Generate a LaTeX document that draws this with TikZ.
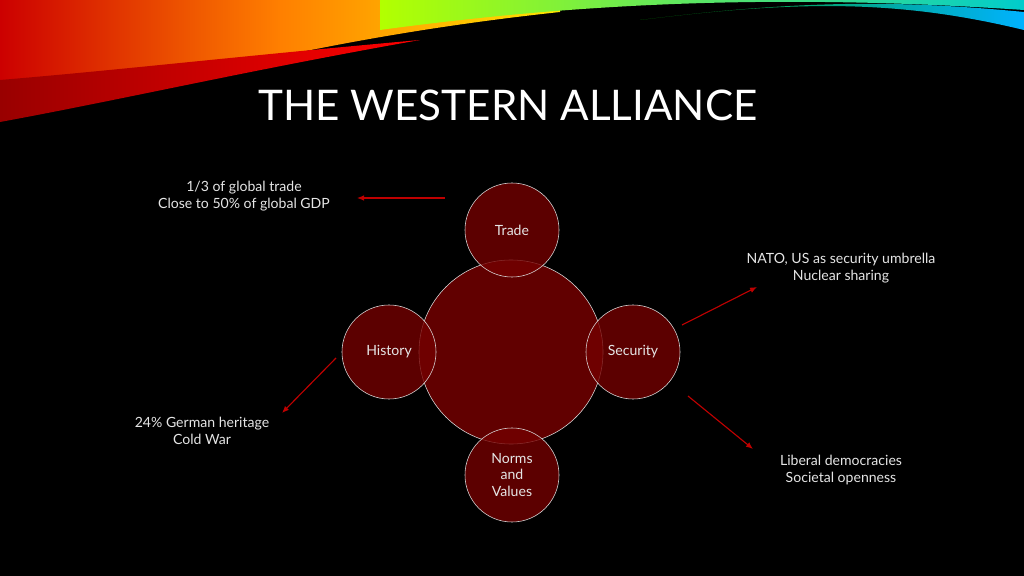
\documentclass[tikz,border=0pt]{standalone}
\usepackage{fontspec}
\setmainfont{Lato}
\usetikzlibrary{arrows.meta, positioning}

\begin{document}
\begin{tikzpicture}[
  x=0.025cm, y=-0.025cm,
  font=\fontsize{10pt}{12pt}\selectfont,
  bigcirc/.style={circle, draw=white!85!black, thin, fill=red!45!black, fill opacity=0.85, text opacity=1, minimum size=184\pgflinewidth*0+4.6cm},
  smallcirc/.style={circle, draw=white!85!black, thin, fill=red!45!black, fill opacity=0.8, text opacity=1, minimum size=2.35cm, text=white!90!black, align=center, inner sep=0pt},
  note/.style={text=white!90!black, align=center, font=\fontsize{10pt}{12pt}\selectfont},
  arrow/.style={-{Latex[length=5pt,width=4pt]}, draw=red!75!black, thick}
]
% background
\fill[black] (0,0) rectangle (1024,576);
\useasboundingbox (0,0) rectangle (1024,576);

% top banner swooshes
\shade[left color=red!80!black, right color=yellow!80!orange, middle color=orange]
  (0,0) -- (0,120) .. controls (150,90) and (300,40) .. (560,12) -- (560,0) -- cycle;
\shade[left color=red!60!black, right color=red]
  (0,80) -- (0,122) .. controls (120,100) and (250,70) .. (420,40) .. controls (250,55) and (120,70) .. (0,80) -- cycle;
\shade[left color=yellow!70!green, right color=cyan!60!teal]
  (380,30) .. controls (600,0) and (800,-5) .. (1024,10) -- (1024,0) -- (380,0) -- cycle;
\shade[left color=green!60!black, right color=cyan!70!blue]
  (640,20) .. controls (800,0) and (900,0) .. (1024,30) -- (1024,12) .. controls (900,0) and (800,0) .. (640,20) -- cycle;

% title
\node[text=white, font=\fontsize{30pt}{34pt}\selectfont] (title) at (508,105) {THE WESTERN ALLIANCE};

% circles
\node[bigcirc] (core) at (511,352) {};
\node[smallcirc] (trade) at (512,230) {Trade};
\node[smallcirc] (history) at (389,352) {History};
\node[smallcirc] (security) at (633,352) {Security};
\node[smallcirc] (norms) at (512,475) {Norms\\and\\Values};

% notes
\node[note] (tradenote) at (244,196) {1/3 of global trade\\Close to 50\% of global GDP};
\node[note] (secnote) at (841,268) {NATO, US as security umbrella\\Nuclear sharing};
\node[note] (histnote) at (202,431) {24\% German heritage\\Cold War};
\node[note] (normnote) at (841,470) {Liberal democracies\\Societal openness};

% arrow ends
\coordinate (a1) at (445,198);
\coordinate (b1) at (357,198);
\coordinate (a2) at (682,325);
\coordinate (b2) at (757,287);
\coordinate (a3) at (336,358);
\coordinate (b3) at (282,413);
\coordinate (a4) at (688,396);
\coordinate (b4) at (753,449);

% arrows
\draw[arrow] (a1) -- (b1);
\draw[arrow] (a2) -- (b2);
\draw[arrow] (a3) -- (b3);
\draw[arrow] (a4) -- (b4);

\end{tikzpicture}
\end{document}
